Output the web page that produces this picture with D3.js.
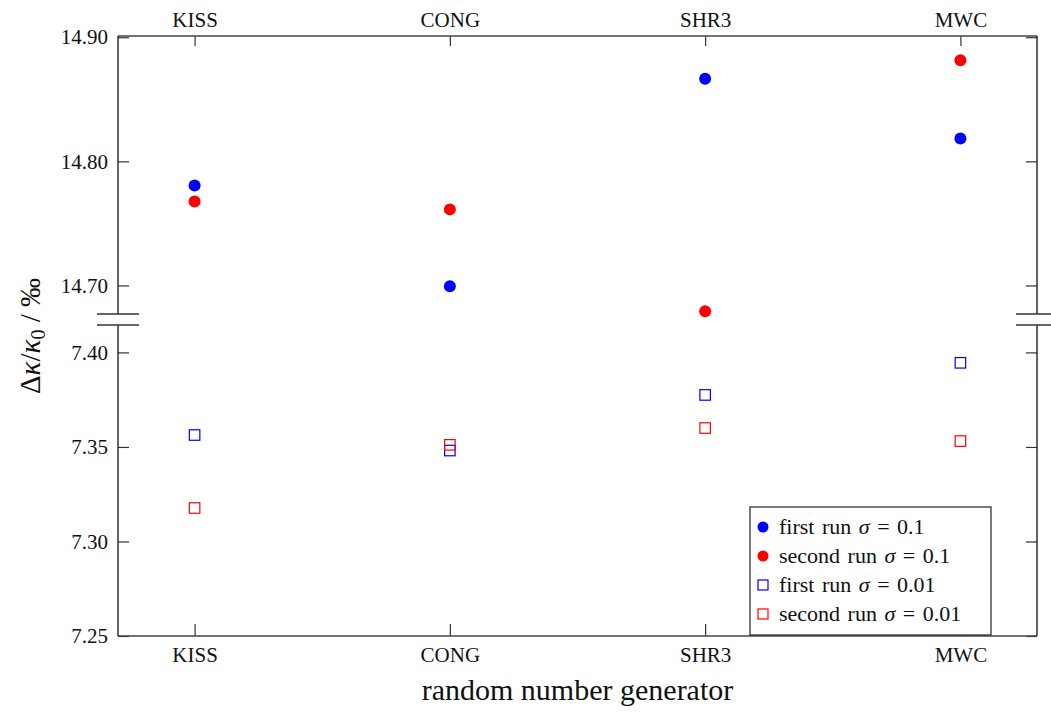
<!DOCTYPE html>
<html>
<head>
<meta charset="utf-8">
<script src="https://cdn.jsdelivr.net/npm/d3@7"></script>
<style>
  html, body { margin: 0; padding: 0; background: #fff; }
  svg { display: block; }
  svg text { font-family: "Liberation Serif", "Tinos", "Times New Roman", "DejaVu Serif", serif !important; fill: #111; }
</style>
</head>
<body>
<svg id="chart" width="1051" height="714"></svg>
<script>
// Random number generators compared
const categories = ["KISS", "CONG", "SHR3", "MWC"];

// Relative change Δκ/κ0 in per mille, upper band (σ = 0.1)
const firstRunSigma01  = [14.7806, 14.6994, 14.8666, 14.8185];
const secondRunSigma01 = [14.7677, 14.7613, 14.6793, 14.8815];

// Lower band (σ = 0.01)
const firstRunSigma001  = [7.3563, 7.3481, 7.3775, 7.3945];
const secondRunSigma001 = [7.3177, 7.3511, 7.3600, 7.3531];

// Tick values for the two halves of the broken axis
const upperTicks = [14.70, 14.80, 14.90];
const lowerTicks = [7.25, 7.30, 7.35, 7.40];

const legendLabels = [
  { run: "first run ",  sigma: "0.1",  color: "#0000ff", shape: "circle" },
  { run: "second run ", sigma: "0.1",  color: "#ff0000", shape: "circle" },
  { run: "first run ",  sigma: "0.01", color: "#0000ff", shape: "square" },
  { run: "second run ", sigma: "0.01", color: "#ff0000", shape: "square" }
];

const svg = d3.select("#chart");

const plotLeft = 118, plotRight = 1037, plotTop = 36, plotBottom = 636;
const upperBottom = 314, lowerTop = 325;

const x = d3.scalePoint().domain(categories).range([plotLeft, plotRight]).padding(0.3);
const yUp = d3.scaleLinear().domain([14.677, 14.901]).range([upperBottom, plotTop]);
const yLo = d3.scaleLinear().domain([7.25, 7.4145]).range([plotBottom, lowerTop]);

const fmt = d3.format(".2f");

function styleAxis(g, fontSize) {
  g.attr("font-family", null);
  g.select(".domain").remove();
  g.selectAll(".tick line").attr("stroke", "#333").attr("stroke-width", 1.2);
  g.selectAll(".tick text")
    .attr("font-size", fontSize)
    .attr("fill", "#111");
}

// Left axis, two segments, ticks pointing inward
svg.append("g").attr("transform", `translate(${plotLeft},0)`)
  .call(d3.axisLeft(yUp).tickValues(upperTicks).tickFormat(fmt).tickSize(-11).tickPadding(10))
  .call(g => styleAxis(g, 21));
svg.append("g").attr("transform", `translate(${plotLeft},0)`)
  .call(d3.axisLeft(yLo).tickValues(lowerTicks).tickFormat(fmt).tickSize(-11).tickPadding(10))
  .call(g => styleAxis(g, 21));

// Right axis, ticks only
svg.append("g").attr("transform", `translate(${plotRight},0)`)
  .call(d3.axisRight(yUp).tickValues(upperTicks).tickFormat("").tickSize(-11))
  .call(g => styleAxis(g, 21));
svg.append("g").attr("transform", `translate(${plotRight},0)`)
  .call(d3.axisRight(yLo).tickValues(lowerTicks).tickFormat("").tickSize(-11))
  .call(g => styleAxis(g, 21));

// Category axes on top and bottom
svg.append("g").attr("transform", `translate(0,${plotTop})`)
  .call(d3.axisTop(x).tickSize(-10).tickPadding(9))
  .call(g => styleAxis(g, 21));
svg.append("g").attr("transform", `translate(0,${plotBottom})`)
  .call(d3.axisBottom(x).tickSize(-12).tickPadding(11))
  .call(g => styleAxis(g, 21));

// Frame
const frame = svg.append("g").attr("fill", "none");
frame.append("line").attr("x1", plotLeft).attr("x2", plotRight).attr("y1", plotTop).attr("y2", plotTop)
  .attr("stroke", "#444").attr("stroke-width", 1.3);
frame.append("line").attr("x1", plotLeft).attr("x2", plotRight).attr("y1", plotBottom).attr("y2", plotBottom)
  .attr("stroke", "#444").attr("stroke-width", 1.3);
[plotLeft, plotRight].forEach(xx => {
  frame.append("line").attr("x1", xx).attr("x2", xx).attr("y1", plotTop).attr("y2", upperBottom)
    .attr("stroke", "#111").attr("stroke-width", 1.3);
  frame.append("line").attr("x1", xx).attr("x2", xx).attr("y1", lowerTop).attr("y2", plotBottom)
    .attr("stroke", "#111").attr("stroke-width", 1.3);
  // break marks
  [upperBottom, lowerTop].forEach(yy => {
    frame.append("line").attr("x1", xx - 21).attr("x2", xx + 21).attr("y1", yy).attr("y2", yy)
      .attr("stroke", "#333").attr("stroke-width", 1.3);
  });
});

// Data marks
const marks = svg.append("g");
function circles(values, scale, color) {
  marks.selectAll(null).data(values).join("circle")
    .attr("cx", (d, i) => x(categories[i]))
    .attr("cy", d => scale(d))
    .attr("r", 6)
    .attr("fill", color);
}
function squares(values, scale, color) {
  const s = 10.5;
  marks.selectAll(null).data(values).join("rect")
    .attr("x", (d, i) => x(categories[i]) - s / 2)
    .attr("y", d => scale(d) - s / 2)
    .attr("width", s).attr("height", s)
    .attr("fill", "none")
    .attr("stroke", color)
    .attr("stroke-width", 1.2);
}
circles(firstRunSigma01, yUp, "#0000ff");
circles(secondRunSigma01, yUp, "#ff0000");
squares(firstRunSigma001, yLo, "#0000ff");
squares(secondRunSigma001, yLo, "#ff0000");

// Legend
const lg = svg.append("g");
lg.append("rect").attr("x", 750).attr("y", 507).attr("width", 241).attr("height", 128)
  .attr("fill", "#fff").attr("stroke", "#222").attr("stroke-width", 1.2);
legendLabels.forEach((d, i) => {
  const cy = 527 + i * 29;
  if (d.shape === "circle") {
    lg.append("circle").attr("cx", 763).attr("cy", cy).attr("r", 5.5).attr("fill", d.color);
  } else {
    lg.append("rect").attr("x", 758).attr("y", cy - 5).attr("width", 10).attr("height", 10)
      .attr("fill", "none").attr("stroke", d.color).attr("stroke-width", 1.2);
  }
  const t = lg.append("text").attr("x", 779).attr("y", cy + 7).attr("font-size", 22)
    .attr("word-spacing", 2);
  t.append("tspan").text(d.run);
  t.append("tspan").attr("font-style", "italic").text("σ");
  t.append("tspan").text(" = " + d.sigma);
});

// Axis titles
svg.append("text")
  .attr("x", (plotLeft + plotRight) / 2).attr("y", 700)
  .attr("text-anchor", "middle").attr("font-size", 30)
  .text("random number generator");

const yl = svg.append("text")
  .attr("transform", `translate(40,${(plotTop + plotBottom) / 2}) rotate(-90)`)
  .attr("text-anchor", "middle").attr("font-size", 29);
yl.append("tspan").text("Δ");
yl.append("tspan").attr("font-style", "italic").text("κ");
yl.append("tspan").text("/");
yl.append("tspan").attr("font-style", "italic").text("κ");
yl.append("tspan").attr("font-size", 20).attr("dy", 5).text("0");
yl.append("tspan").attr("dy", -5).text(" / ‰");
</script>
</body>
</html>
